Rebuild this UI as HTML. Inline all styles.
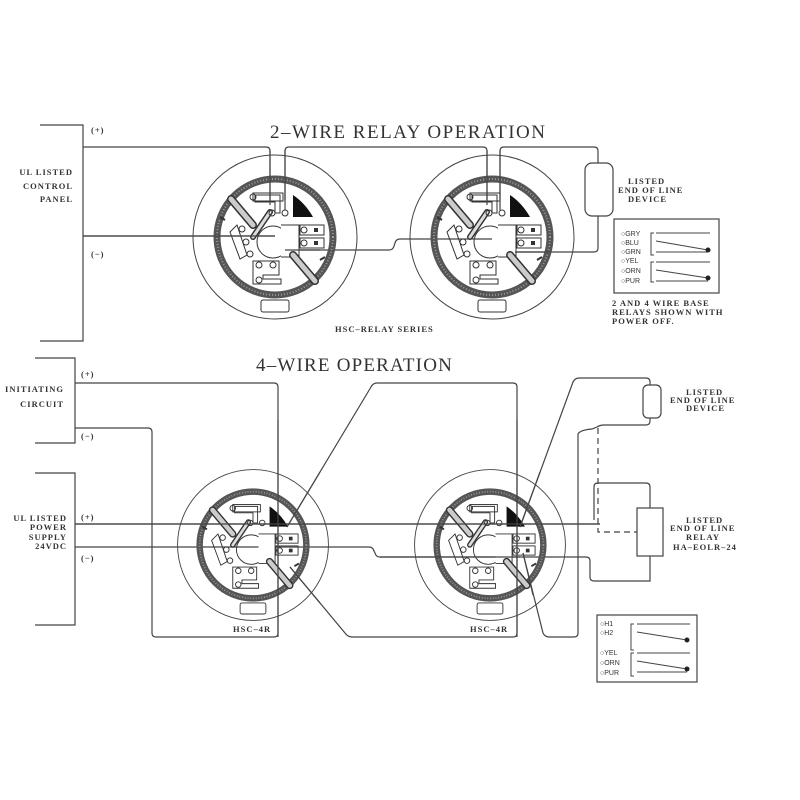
<!DOCTYPE html>
<html><head><meta charset="utf-8"><style>
html,body{margin:0;padding:0;background:#fff;width:800px;height:800px;overflow:hidden}
svg{display:block}
.t{font-family:"Liberation Serif",serif;fill:#333}
.s{font-family:"Liberation Serif",serif;font-weight:bold;fill:#333;font-size:8.5px;letter-spacing:1px}
.r{font-family:"Liberation Sans",sans-serif;fill:#333;font-size:7px}
</style></head><body>
<svg width="800" height="800" viewBox="0 0 800 800" xmlns="http://www.w3.org/2000/svg">
<defs>
<g id="det">
  <circle r="82" fill="none" stroke="#444" stroke-width="1"/>
  <circle r="58" fill="none" stroke="#555" stroke-width="7"/>
  <circle r="58" fill="none" stroke="#999" stroke-width="2" stroke-dasharray="1 2"/>
  <circle cx="-2" cy="5" r="16" fill="none" stroke="#333"/>
  <path d="M6,-12 H24 V20 H6" fill="#fff" stroke="#333"/>
  <path d="M18,-42 V-20 H38 Q30,-34 18,-42Z" fill="#111"/>
  <rect x="25" y="-12" width="24" height="10" fill="none" stroke="#333"/>
  <rect x="25" y="1" width="24" height="10" fill="none" stroke="#333"/>
  <circle cx="29" cy="-7" r="3" fill="none" stroke="#333"/>
  <circle cx="29" cy="6" r="3" fill="none" stroke="#333"/>
  <rect x="39" y="-9" width="4" height="4" fill="#333"/>
  <rect x="39" y="4" width="4" height="4" fill="#333"/>
  <path d="M-44,-38 L-22,-12" stroke="#333" stroke-width="8" stroke-linecap="round"/>
  <path d="M-44,-38 L-22,-12" stroke="#ccc" stroke-width="5" stroke-linecap="round"/>
  <path d="M18,18 L40,44" stroke="#333" stroke-width="8" stroke-linecap="round"/>
  <path d="M18,18 L40,44" stroke="#ccc" stroke-width="5" stroke-linecap="round"/>
  <path d="M-5,-25 L-22,0" stroke="#333" stroke-width="6" stroke-linecap="round"/>
  <path d="M-5,-25 L-22,0" stroke="#ddd" stroke-width="3" stroke-linecap="round"/>
  <path d="M-20,-42 H5 V-24 H0 V-35 H-20Z" fill="none" stroke="#333"/>
  <rect x="-22" y="-44" width="30" height="8" fill="none" stroke="#333"/>
  <circle cx="-22" cy="-40" r="3" fill="none" stroke="#333"/>
  <circle cx="-3" cy="-24" r="3" fill="none" stroke="#333"/>
  <circle cx="10" cy="-24" r="3" fill="none" stroke="#333"/>
  <path d="M-45,-5 L-38,-12 L-28,18 L-35,22Z" fill="none" stroke="#333"/>
  <circle cx="-33" cy="-8" r="3" fill="none" stroke="#333"/>
  <circle cx="-29" cy="5" r="3" fill="none" stroke="#333"/>
  <circle cx="-25" cy="17" r="3" fill="none" stroke="#333"/>
  <path d="M-22,24 H4 V38 H-12 V42 H6 V47 H-22Z" fill="none" stroke="#333"/>
  <circle cx="-16" cy="28" r="3" fill="none" stroke="#333"/>
  <circle cx="-2" cy="28" r="3" fill="none" stroke="#333"/>
  <circle cx="-16" cy="43" r="3" fill="none" stroke="#333"/>
  <path d="M-55,-20 l5,3 M50,20 l-5,3" stroke="#333" stroke-width="2"/>
  <rect x="-14" y="63" width="28" height="12" rx="2" fill="#fff" stroke="#333"/>
</g>
</defs>
<g fill="none" stroke="#444" stroke-width="1.2">
<path d="M40,125 H83 V341 H40"/>
<path d="M83,147 H266 Q270,147 270,151 V200"/>
<path d="M285,200 V151 Q285,147 289,147 H483 Q487,147 487,151 V200"/>
<path d="M500,200 V151 Q500,147 504,147 H594 Q598,147 598,151 V163"/>
<rect x="585" y="163" width="28" height="53" rx="7"/>
<path d="M598,216 V248 Q598,252 594,252 H515"/>
<path d="M83,236 H275"/>
<path d="M285,250 H389 Q393,250 394,246 L395,243 Q396,239 400,239 H460"/>
<rect x="614" y="219" width="105" height="74"/>
<path d="M35,358 H75 V443 H35"/>
<path d="M35,473 H75 V625 H35"/>
<path d="M75,383 H274 Q278,383 278,387 V633 Q278,637 274,637 H156 Q152,637 152,633 V432 Q152,428 148,428 H75"/>
<path d="M75,524 H600"/>
<path d="M75,547 H369 Q373,547 374,551 L375,553 Q376,557 380,557 H586 Q590,557 590,561 V577 Q590,581 594,581 H650 V556"/>
<path d="M287,527 L371,387 Q373,383 377,383 H513 Q517,383 517,387 V633 Q517,637 513,637 H352 Q348,637 345,633 L290,567"/>
<path d="M520,527 L573,382 Q575,378 579,378 H646 Q650,378 650,382 V385"/>
<rect x="643" y="385" width="18" height="33" rx="5"/>
<path d="M650,418 V421 Q650,425 646,425 H604 Q600,425 597,427 L592,429 Q580,430 578,434 V633 Q578,637 574,637 H549 Q545,637 543,633 L523,553"/>
<path d="M594,520 V487 Q594,483 598,483 H646 Q650,483 650,487 V508"/>
<rect x="637" y="508" width="26" height="48"/>
<path d="M598,428 V532 H637" stroke-dasharray="6 4"/>
<rect x="597" y="615" width="100" height="67"/>
</g>
<use href="#det" transform="translate(275,237)"/>
<use href="#det" transform="translate(492,237)"/>
<use href="#det" transform="translate(253,545) scale(0.92)"/>
<use href="#det" transform="translate(490,545) scale(0.92)"/>
<g fill="none" stroke="#444" stroke-width="1.2">
<path d="M270,150 V205 M285,150 V210 M487,150 V205 M500,150 V210 M83,236 H275 M285,250 H320 M460,239 H492 M515,252 H550"/>
<path d="M75,524 H600 M278,420 V637 M517,420 V637 M287,527 L320,472 M520,527 L540,472 M290,567 L320,603 M523,553 L533,595 M380,557 H520"/>
</g>
<g stroke="#444" fill="none" stroke-width="1">
<path d="M654,233 h-3 v22 h3 M654,262 h-3 v20 h3"/>
<path d="M656,233 H710 M656,241 L708,250 M656,252 H708 M656,262 H710 M656,270 L708,278 M656,281 H708"/>
<path d="M634,624 h-3 v26 h3 M634,653 h-3 v23 h3"/>
<path d="M637,624 H690 M637,632 L687,640 M637,653 H690 M637,661 L687,669 M637,672 H687"/>
</g>
<g fill="#222"><circle cx="708" cy="250" r="2.5"/><circle cx="708" cy="278" r="2.5"/><circle cx="687" cy="640" r="2.5"/><circle cx="687" cy="669" r="2.5"/></g>
<g class="r">
<text x="621" y="236">○GRY</text><text x="621" y="245">○BLU</text><text x="621" y="254">○GRN</text>
<text x="621" y="263">○YEL</text><text x="621" y="273">○ORN</text><text x="621" y="283">○PUR</text>
<text x="600" y="626">○H1</text><text x="600" y="635">○H2</text>
<text x="600" y="655">○YEL</text><text x="600" y="665">○ORN</text><text x="600" y="675">○PUR</text>
</g>
<text class="t" x="270" y="138" font-size="19" letter-spacing="1.5">2–WIRE RELAY OPERATION</text>
<text class="t" x="256" y="371" font-size="19" letter-spacing="1.2">4–WIRE OPERATION</text>
<g class="s">
<text x="91" y="133">(+)</text><text x="91" y="257">(−)</text>
<text x="73" y="175" text-anchor="end">UL LISTED</text>
<text x="73" y="189" text-anchor="end">CONTROL</text>
<text x="73" y="202" text-anchor="end">PANEL</text>
<text x="335" y="332">HSC–RELAY SERIES</text>
<text x="628" y="184">LISTED</text>
<text x="618" y="193">END OF LINE</text>
<text x="628" y="202">DEVICE</text>
<text x="612" y="306">2 AND 4 WIRE BASE</text>
<text x="612" y="315">RELAYS SHOWN WITH</text>
<text x="612" y="324">POWER OFF.</text>
<text x="81" y="377">(+)</text><text x="81" y="439">(−)</text>
<text x="64" y="392" text-anchor="end">INITIATING</text>
<text x="64" y="407" text-anchor="end">CIRCUIT</text>
<text x="81" y="520">(+)</text><text x="81" y="561">(−)</text>
<text x="67" y="521" text-anchor="end">UL LISTED</text>
<text x="67" y="530" text-anchor="end">POWER</text>
<text x="67" y="540" text-anchor="end">SUPPLY</text>
<text x="67" y="549" text-anchor="end">24VDC</text>
<text x="233" y="632">HSC–4R</text>
<text x="470" y="632">HSC–4R</text>
<text x="686" y="395">LISTED</text>
<text x="670" y="403">END OF LINE</text>
<text x="686" y="411">DEVICE</text>
<text x="686" y="523">LISTED</text>
<text x="670" y="531">END OF LINE</text>
<text x="686" y="540">RELAY</text>
<text x="673" y="550">HA–EOLR–24</text>
</g>
</svg>
</body></html>
